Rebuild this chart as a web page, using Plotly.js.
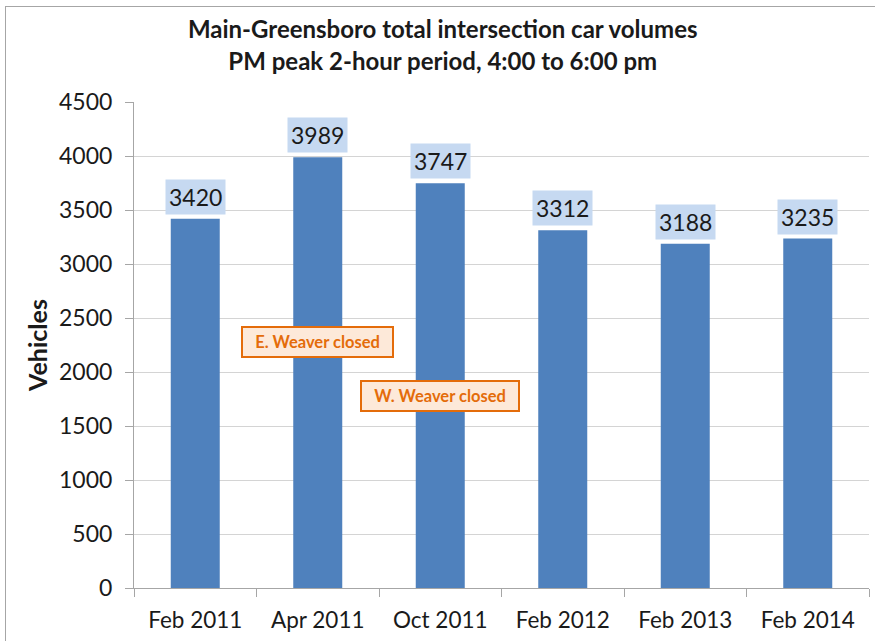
<!DOCTYPE html>
<html>
<head>
<meta charset="utf-8">
<script src="https://cdn.plot.ly/plotly-3.0.1.min.js"></script>
<style>
  html, body { margin: 0; padding: 0; background: #fff; }
  #wrap { position: relative; width: 875px; height: 641px; }
  #chart { width: 875px; height: 641px; }
  #frame { position: absolute; left: 5px; top: 6px; width: 880px; height: 650px;
           border-left: 1.5px solid #a6a6a6; border-top: 1.5px solid #a6a6a6; pointer-events: none; }
</style>
</head>
<body>
<div id="wrap">
  <div id="chart"></div>
  <div id="frame"></div>
</div>
<script>
const categories = ["Feb 2011", "Apr 2011", "Oct 2011", "Feb 2012", "Feb 2013", "Feb 2014"];
const vehicles = [3420, 3989, 3747, 3312, 3188, 3235];
const yTicks = [0, 500, 1000, 1500, 2000, 2500, 3000, 3500, 4000, 4500];
const notes = [
  {text: "E. Weaver closed", x: "Apr 2011", y: 2280},
  {text: "W. Weaver closed", x: "Oct 2011", y: 1775}
];

const FONT = "Lato, 'Open Sans', sans-serif";

const trace = {
  type: "bar",
  x: categories,
  y: vehicles,
  marker: {color: "#4f81bd"},
  hoverinfo: "x+y"
};

const labelAnns = categories.map((c, i) => ({
  x: c, y: vehicles[i], xref: "x", yref: "y",
  text: String(vehicles[i]),
  showarrow: false, yanchor: "bottom", yshift: 4,
  bgcolor: "#c6d9f1", borderpad: 3,
  font: {family: FONT, size: 23, color: "#1a1a1a"}
}));

const noteAnns = notes.map(n => ({
  x: n.x, y: n.y, xref: "x", yref: "y",
  text: "\u2002<b>" + n.text + "</b>\u2002",
  showarrow: false,
  bgcolor: "#fde9d9", bordercolor: "#e46c0a", borderwidth: 2, borderpad: 4,
  font: {family: FONT, size: 16.5, color: "#e46c0a"}
}));

const layout = {
  width: 875, height: 641,
  margin: {l: 134, r: 6, t: 102, b: 53},
  paper_bgcolor: "rgba(0,0,0,0)",
  plot_bgcolor: "#ffffff",
  showlegend: false,
  bargap: 0.6,
  font: {family: FONT, color: "#1a1a1a"},
  title: {
    text: "<b>Main-Greensboro total intersection car volumes<br>PM peak 2-hour period, 4:00 to 6:00 pm</b>",
    font: {family: FONT, size: 24, color: "#1a1a1a"},
    x: 0.506, xanchor: "center", y: 0.94, yanchor: "middle"
  },
  xaxis: {
    type: "category",
    tickson: "boundaries",
    ticks: "outside", ticklen: 8, tickcolor: "#a6a6a6",
    showline: true, linecolor: "#a6a6a6", linewidth: 1,
    showgrid: false,
    ticklabelstandoff: 12,
    tickfont: {family: FONT, size: 22.5, color: "#1a1a1a"}
  },
  yaxis: {
    range: [0, 4500],
    tickvals: yTicks,
    ticktext: yTicks.map(String),
    ticks: "outside", ticklen: 8, tickcolor: "#a6a6a6",
    showline: true, linecolor: "#a6a6a6", linewidth: 1,
    showgrid: true, gridcolor: "#d4d4d4", gridwidth: 1,
    zeroline: false,
    ticklabelstandoff: 8,
    tickfont: {family: FONT, size: 23, color: "#1a1a1a"},
    title: {text: "<b>Vehicles</b>", font: {family: FONT, size: 25, color: "#1a1a1a"}, standoff: 4}
  },
  annotations: labelAnns.concat(noteAnns)
};

Plotly.newPlot("chart", [trace], layout, {displayModeBar: false, staticPlot: true});
</script>
</body>
</html>
